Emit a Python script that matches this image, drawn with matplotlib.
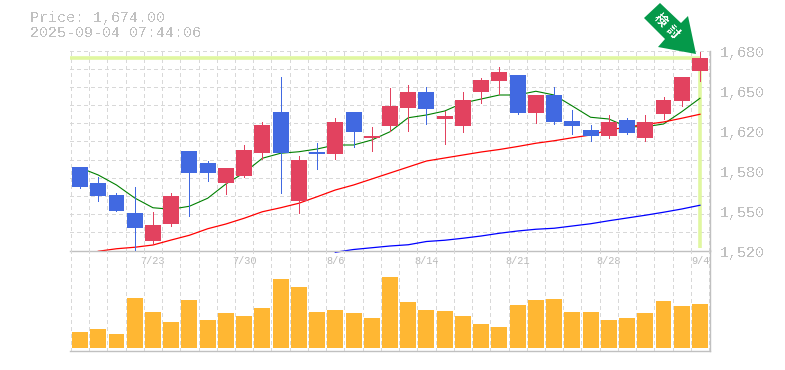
import numpy as np
import matplotlib
matplotlib.use("Agg")
import matplotlib.pyplot as plt
from matplotlib.patches import Polygon

plt.rcParams['font.family'] = ['Liberation Mono', 'DejaVu Sans Mono']
plt.rcParams['text.antialiased'] = False

# ohlc
opens = [1586.8, 1574.0, 1564.4, 1550.0, 1527.8, 1541.4, 1599.6, 1590.0, 1574.2, 1579.8, 1598.2, 1630.8,
         1559.6, 1598.8, 1597.2, 1630.8, 1610.0, 1619.8, 1634.0, 1646.8, 1625.2, 1619.8, 1646.8, 1655.6,
         1660.4, 1630.2, 1644.4, 1623.6, 1616.4, 1611.6, 1624.4, 1610.0, 1629.2, 1639.6, 1663.6]
closes = [1571.0, 1563.8, 1551.8, 1538.2, 1540.4, 1563.6, 1582.2, 1582.2, 1586.0, 1600.4, 1620.4, 1598.2,
          1592.4, 1597.2, 1622.8, 1615.0, 1611.6, 1635.6, 1646.8, 1633.2, 1627.6, 1640.4, 1656.4, 1662.8,
          1630.2, 1644.4, 1623.0, 1619.6, 1611.6, 1622.8, 1614.0, 1622.8, 1640.4, 1658.8, 1674.0]
highs = [1586.8, 1578.8, 1565.8, 1570.8, 1550.8, 1565.8, 1599.6, 1591.6, 1586.0, 1604.4, 1622.8, 1658.8,
         1595.6, 1606.0, 1626.0, 1630.8, 1618.8, 1650.0, 1652.4, 1650.8, 1631.6, 1646.8, 1658.0, 1666.8,
         1660.4, 1644.4, 1650.8, 1632.4, 1620.4, 1628.4, 1626.0, 1628.4, 1642.8, 1658.8, 1678.8]
lows = [1570.0, 1559.8, 1551.8, 1520.0, 1525.8, 1539.8, 1547.8, 1575.8, 1565.4, 1578.8, 1593.4, 1566.2,
        1550.2, 1585.4, 1593.4, 1603.0, 1599.8, 1615.8, 1615.8, 1621.4, 1605.4, 1615.0, 1638.2, 1645.2,
        1629.4, 1622.2, 1621.4, 1613.2, 1607.6, 1610.0, 1613.2, 1607.6, 1625.2, 1635.6, 1655.6]

ma_short = [1586.2, 1580.4, 1572.4, 1562.0, 1554.2, 1553.0, 1555.4, 1561.8, 1573.2, 1582.2, 1593.8, 1597.8,
            1599.0, 1601.2, 1604.4, 1604.4, 1608.4, 1615.0, 1626.2, 1628.4, 1631.6, 1638.0, 1641.2, 1644.4,
            1644.4, 1647.4, 1644.4, 1635.6, 1626.6, 1625.2, 1619.0, 1619.0, 1621.2, 1631.0, 1641.8]
ma_mid = [np.nan, 1519.4, 1521.4, 1522.6, 1524.4, 1528.4, 1532.2, 1537.4, 1541.2, 1545.8, 1551.0, 1554.2,
          1557.8, 1563.0, 1568.4, 1572.4, 1577.2, 1582.0, 1586.8, 1591.6, 1594.0, 1596.4, 1598.8, 1600.8,
          1603.2, 1605.8, 1607.8, 1610.2, 1612.4, 1616.4, 1618.8, 1620.8, 1622.8, 1625.8, 1629.0]
ma_long = [np.nan] * 14 + [1518.6, 1520.8, 1522.2, 1523.6, 1524.6, 1527.2, 1528.2, 1529.8, 1531.6, 1533.8,
                           1535.6, 1537.0, 1537.8, 1539.6, 1541.4, 1543.8, 1546.0, 1548.2, 1550.6, 1553.2, 1556.2]

volumes = [16, 19, 14, 50, 36, 26, 48, 28, 35, 32, 40, 69, 61, 36, 38, 35, 30, 71,
           46, 38, 37, 32, 24, 21, 43, 48, 49, 36, 36, 28, 30, 35, 47, 42, 44]

date_pos = [4, 9, 14, 19, 24, 29, 34]
date_labels = ["7/23", "7/30", "8/6", "8/14", "8/21", "8/28", "9/4"]
price_ticks = [1680, 1648, 1616, 1584, 1552, 1520]
price_labels = ["1,680", "1,650", "1,620", "1,580", "1,550", "1,520"]
last_price = 1674

RED = "#e2425f"
BLUE = "#4169e1"
GREY = "#c0c0c0"
GRID = "#d8d8d8"
LIME = "#e0f7a0"
W, H = 785, 370

fig = plt.figure(figsize=(W / 100, H / 100), dpi=100, facecolor="white")
ax = fig.add_axes([70 / W, (H - 250.5) / H, 640 / W, 200 / H])
vol = fig.add_axes([70 / W, (H - 350.5) / H, 640 / W, 100 / H])
vol.patch.set_visible(False)

x = np.arange(len(opens))
slots = np.arange(len(opens) + 1) - 0.5
for a in (ax, vol):
    a.set_xlim(-0.55, 34.55)
    a.set_xticks(slots)
    a.tick_params(length=0, labelbottom=False, labelleft=False)
    a.grid(axis="x", color=GRID, lw=0.72, ls=(0, (3, 3)), antialiased=False, zorder=0)
    a.set_axisbelow(True)
    for s in ("top", "left"):
        a.spines[s].set_visible(False)
    for s in ("bottom", "right"):
        a.spines[s].set_color(GREY)
        a.spines[s].set_linewidth(1.0)

ax.set_ylim(1520, 1680)
ax.set_yticks(np.linspace(1520, 1680, 12))
ax.grid(axis="y", color=GRID, lw=0.72, ls=(0, (3, 3)), antialiased=False, zorder=0)

# current price marker
ax.hlines(last_price, -0.55, 34, color=LIME, lw=2.6, zorder=1)
ax.vlines(34, 1522, last_price, color=LIME, lw=2.6, zorder=1)

ax.plot(x, ma_short, color="#008000", lw=0.8, zorder=2, clip_on=False)
ax.plot(x, ma_mid, color="#ff0000", lw=0.9, zorder=2, clip_on=False)
ax.plot(x, ma_long, color="#0000ff", lw=0.9, zorder=2, clip_on=False)

colors = [RED if c >= o else BLUE for o, c in zip(opens, closes)]
ax.vlines(x, lows, highs, colors=colors, lw=0.72, zorder=3, antialiased=False)
ax.bar(x, np.abs(np.array(closes) - np.array(opens)), bottom=np.minimum(opens, closes),
       width=0.875, color=colors, lw=0, zorder=4, antialiased=False)

vol.set_ylim(-2, 97)
vol.set_yticks([])
vol.bar(x, volumes, width=0.875, color="#ffb733", lw=0, zorder=2, antialiased=False)

for val, lab in zip(price_ticks, price_labels):
    ax.annotate(lab, xy=(1, val), xycoords=("axes fraction", "data"), xytext=(10, -3),
                textcoords="offset pixels", color=GREY, fontsize=10.8, va="center", ha="left",
                annotation_clip=False)
for pos, lab in zip(date_pos, date_labels):
    ax.annotate(lab, xy=(pos, 1520), xycoords="data", xytext=(0, -11), textcoords="offset pixels",
                color="#b8b8b8", fontsize=7.4, va="center", ha="center", annotation_clip=False,
                zorder=6, antialiased=True)

fig.text(30 / W, 1 - 18 / H, "Price: 1,674.00", color=GREY, fontsize=10.8, va="center", ha="left")
fig.text(30 / W, 1 - 33 / H, "2025-09-04 07:44:06", color=GREY, fontsize=10.8, va="center", ha="left")

# green arrow, pixel positions
arrow_px = [(696, 54), (688, 16), (681, 23), (660, 3), (644, 18), (665, 39), (658, 47)]
arrow = Polygon([(px / W, 1 - py / H) for px, py in arrow_px], closed=True, transform=fig.transFigure,
                facecolor="#05994a", edgecolor="none", zorder=10)
fig.add_artist(arrow)
for tx, ty, ch in [(660, 20, "検"), (672, 32, "討")]:
    fig.text(tx / W, 1 - ty / H, ch, color="white", fontsize=9, fontweight="bold", rotation=-45,
             ha="center", va="center", family=["Noto Sans CJK JP", "DejaVu Sans"], zorder=11)

fig.savefig("out.png", dpi=100, facecolor="white")
